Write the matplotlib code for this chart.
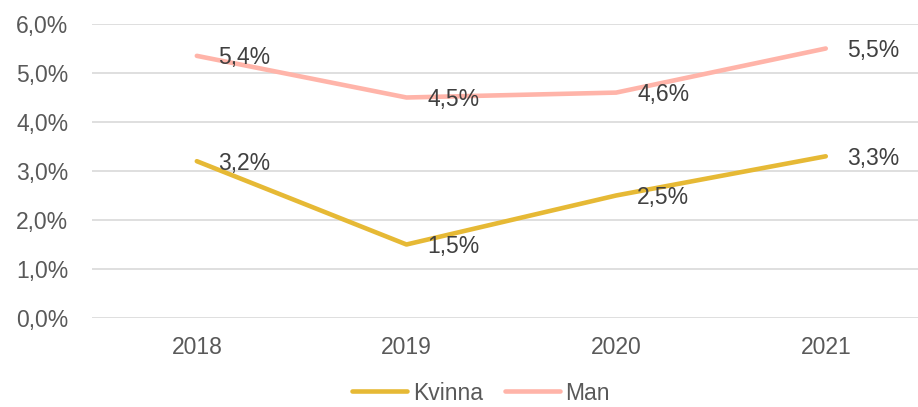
import matplotlib
matplotlib.use("Agg")
import matplotlib.pyplot as plt
from matplotlib.ticker import FuncFormatter

years = ["2018", "2019", "2020", "2021"]
kvinna = [3.2, 1.5, 2.5, 3.3]
man = [5.35, 4.5, 4.6, 5.5]
kvinna_labels = ["3,2%", "1,5%", "2,5%", "3,3%"]
man_labels = ["5,4%", "4,5%", "4,6%", "5,5%"]

plt.rcParams['font.family'] = ['Liberation Sans', 'DejaVu Sans']
txt = '#595959'
grid = '#D9D9D9'
fs = 16.5

fig = plt.figure(figsize=(9.18, 4.07), dpi=100)
ax = fig.add_axes([92/918, 89/407, 826/918, 294/407])

x = list(range(len(years)))
ax.plot(x, kvinna, color='#E6B935', lw=3.3, solid_capstyle='round', label='Kvinna', zorder=3)
ax.plot(x, man, color='#FFB4A9', lw=3.3, solid_capstyle='round', label='Man', zorder=3)

# data labels to the right of each point
for i in x:
    ax.annotate(kvinna_labels[i], (i, kvinna[i]), xytext=(21, -2), textcoords='offset pixels',
                ha='left', va='center', fontsize=fs, color='#404040', zorder=4)
    ax.annotate(man_labels[i], (i, man[i]), xytext=(21, -2), textcoords='offset pixels',
                ha='left', va='center', fontsize=fs, color='#404040', zorder=4)

ax.set_ylim(0, 6)
ax.set_xlim(-0.5, 3.44)
ax.set_yticks([0, 1, 2, 3, 4, 5, 6])
ax.yaxis.set_major_formatter(FuncFormatter(lambda v, p: f"{v:.1f}%".replace('.', ',')))
ax.set_xticks(x)
ax.set_xticklabels(years)
ax.grid(axis='y', color=grid, lw=1.2)
ax.set_axisbelow(True)
for s in ax.spines.values():
    s.set_visible(False)
ax.tick_params(axis='both', length=0, colors=txt, labelsize=fs)
ax.tick_params(axis='y', pad=17)
ax.tick_params(axis='x', pad=13)

leg = fig.legend(loc='center', bbox_to_anchor=(0.5 + 22/918, 14/407), ncol=2, frameon=False,
                 fontsize=fs, handlelength=2.4, handletextpad=0.25, columnspacing=0.95,
                 borderpad=0.1)
for t in leg.get_texts():
    t.set_color(txt)

fig.savefig('out.png', dpi=100)
